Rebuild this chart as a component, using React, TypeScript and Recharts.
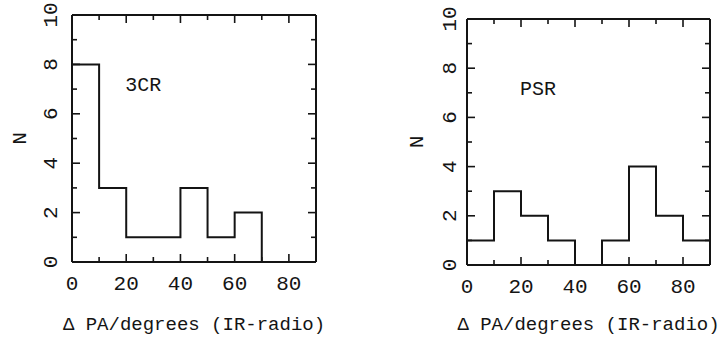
import React from 'react';
import { LineChart, Line, XAxis, YAxis, ReferenceDot, Label } from 'recharts';

// Histogram bin left edges (degrees); the final entry (90) closes the last bin.
const binEdges = [0, 10, 20, 30, 40, 50, 60, 70, 80, 90];
// Counts per bin (last value repeats the 80-90 bin to draw its top edge).
const counts3CR = [8, 3, 1, 1, 3, 1, 2, 0, 0, 0];
const countsPSR = [1, 3, 2, 1, 0, 1, 4, 2, 1, 1];

const xTicks = [0, 10, 20, 30, 40, 50, 60, 70, 80, 90];
const xTickLabels = [0, 20, 40, 60, 80];
const yTicks = [0, 1, 2, 3, 4, 5, 6, 7, 8, 9, 10];
const yTickLabels = [0, 2, 4, 6, 8, 10];

const xLabel = 'Δ PA/degrees (IR-radio)';
const yLabel = 'N';

const FONT = "'Liberation Mono', 'DejaVu Sans Mono', monospace";
const INK = '#141414';
const MAJOR = 8;
const MINOR = 5;

type PanelProps = {
  counts: number[];
  name: string;
  left: number;
  top: number;
  width: number;
  margin: { top: number; right: number; bottom: number; left: number };
  yTickOffset: number;
  yLabelOffset: number;
  xLabelOffset: number;
};

function Panel({ counts, name, left, top, width, margin, yTickOffset, yLabelOffset, xLabelOffset }: PanelProps) {
  const data = binEdges.map((e, i) => ({ edge: e, n: counts[i] }));

  const bottomTick = (p: any) => {
    const v = p.payload.value;
    const major = xTickLabels.includes(v);
    const len = major ? MAJOR : MINOR;
    const edge = v === 0 || v === 90;
    return (
      <g>
        {!edge && <line x1={p.x} y1={p.y} x2={p.x} y2={p.y - len} stroke={INK} strokeWidth={1.6} />}
        {major && (
          <text x={p.x} y={p.y + 28} textAnchor="middle" style={{ fontFamily: FONT }} fontSize={21} fill={INK}>
            {v}
          </text>
        )}
      </g>
    );
  };
  const topTick = (p: any) => {
    const v = p.payload.value;
    const len = xTickLabels.includes(v) ? MAJOR : MINOR;
    if (v === 0 || v === 90) return <g />;
    return <line x1={p.x} y1={p.y} x2={p.x} y2={p.y + len} stroke={INK} strokeWidth={1.6} />;
  };
  const leftTick = (p: any) => {
    const v = p.payload.value;
    const major = yTickLabels.includes(v);
    const len = major ? MAJOR : MINOR;
    const edge = v === 0 || v === 10;
    return (
      <g>
        {!edge && <line x1={p.x} y1={p.y} x2={p.x + len} y2={p.y} stroke={INK} strokeWidth={1.6} />}
        {major && (
          <text
            transform={`translate(${p.x - yTickOffset},${p.y}) rotate(-90)`}
            textAnchor="middle"
            dy="0.35em"
            style={{ fontFamily: FONT }}
            fontSize={21}
            fill={INK}
          >
            {v}
          </text>
        )}
      </g>
    );
  };
  const rightTick = (p: any) => {
    const v = p.payload.value;
    const len = yTickLabels.includes(v) ? MAJOR : MINOR;
    if (v === 0 || v === 10) return <g />;
    return <line x1={p.x} y1={p.y} x2={p.x - len} y2={p.y} stroke={INK} strokeWidth={1.6} />;
  };

  const xLabelContent = (p: any) => {
    const vb = p.viewBox;
    return (
      <text x={vb.x + vb.width / 2} y={vb.y + xLabelOffset} textAnchor="middle" style={{ fontFamily: FONT }} fontSize={19} fill={INK}>
        {xLabel}
      </text>
    );
  };
  const yLabelContent = (p: any) => {
    const vb = p.viewBox;
    return (
      <text
        transform={`translate(${vb.x + vb.width - yLabelOffset},${vb.y + vb.height / 2}) rotate(-90)`}
        textAnchor="middle"
        dy="0.35em"
        style={{ fontFamily: FONT }}
        fontSize={21}
        fill={INK}
      >
        {yLabel}
      </text>
    );
  };
  const nameContent = (p: any) => {
    const vb = p.viewBox;
    return (
      <text x={vb.x} y={vb.y + vb.height / 2} dy="0.35em" style={{ fontFamily: FONT }} fontSize={20} fill={INK}>
        {name}
      </text>
    );
  };

  const axisStyle = { stroke: INK, strokeWidth: 2 };

  return (
    <div style={{ position: 'absolute', left, top }}>
      <LineChart width={width} height={339} data={data} margin={margin}>
        <XAxis
          xAxisId="b"
          dataKey="edge"
          type="number"
          domain={[0, 90]}
          ticks={xTicks}
          interval={0}
          allowDataOverflow
          orientation="bottom"
          height={1}
          tickSize={0}
          tickMargin={0}
          tickLine={false}
          axisLine={axisStyle}
          tick={bottomTick}
        >
          <Label content={xLabelContent} />
        </XAxis>
        <XAxis
          xAxisId="t"
          dataKey="edge"
          type="number"
          domain={[0, 90]}
          ticks={xTicks}
          interval={0}
          allowDataOverflow
          orientation="top"
          height={1}
          tickSize={0}
          tickMargin={0}
          tickLine={false}
          axisLine={axisStyle}
          tick={topTick}
        />
        <YAxis
          yAxisId="l"
          type="number"
          domain={[0, 10]}
          ticks={yTicks}
          interval={0}
          allowDataOverflow
          orientation="left"
          width={1}
          tickSize={0}
          tickMargin={0}
          tickLine={false}
          axisLine={axisStyle}
          tick={leftTick}
        >
          <Label content={yLabelContent} />
        </YAxis>
        <YAxis
          yAxisId="r"
          type="number"
          domain={[0, 10]}
          ticks={yTicks}
          interval={0}
          allowDataOverflow
          orientation="right"
          width={1}
          tickSize={0}
          tickMargin={0}
          tickLine={false}
          axisLine={axisStyle}
          tick={rightTick}
        />
        <Line
          xAxisId="b"
          yAxisId="l"
          type="stepAfter"
          dataKey="n"
          stroke={INK}
          strokeWidth={2}
          dot={false}
          isAnimationActive={false}
        />
        <ReferenceDot
          xAxisId="b"
          yAxisId="l"
          x={20}
          y={7.2}
          r={1}
          fill="none"
          stroke="none"
        >
          <Label content={nameContent} />
        </ReferenceDot>
      </LineChart>
    </div>
  );
}

export default function App() {
  return (
    <div style={{ position: 'absolute', left: 0, top: 0, width: 723, height: 339, background: '#fff', overflow: 'hidden' }}>
      <Panel
        counts={counts3CR}
        name="3CR"
        left={0}
        top={0}
        width={340}
        margin={{ top: 14, right: 23, bottom: 76, left: 71 }}
        yTickOffset={22}
        yLabelOffset={53}
        xLabelOffset={68}
      />
      <Panel
        counts={countsPSR}
        name="PSR"
        left={380}
        top={0}
        width={343}
        margin={{ top: 18, right: 12, bottom: 73, left: 86 }}
        yTickOffset={18}
        yLabelOffset={51}
        xLabelOffset={65}
      />
    </div>
  );
}
